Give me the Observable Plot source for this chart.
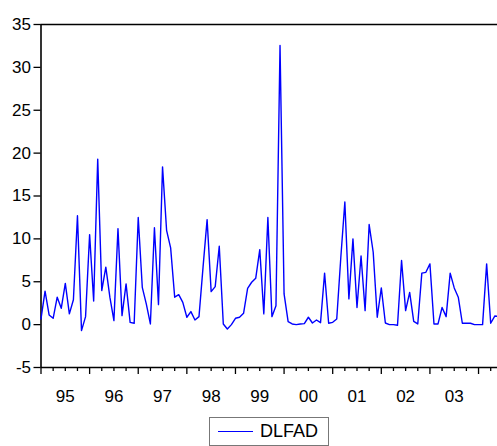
<!DOCTYPE html>
<html>
<head>
<meta charset="utf-8">
<script src="https://cdn.jsdelivr.net/npm/d3@7"></script>
<script src="https://cdn.jsdelivr.net/npm/@observablehq/plot@0.6"></script>
<style>
  html, body { margin: 0; padding: 0; background: #fff; overflow: hidden; }
  #chart { width: 497px; }
  #legend {
    margin-left: 209px; margin-top: 5px;
    width: 120px; height: 29px; box-sizing: border-box;
    border: 1px solid #777; display: flex; align-items: center;
    font-family: "Liberation Sans", Arial, sans-serif; font-size: 18px; color: #000;
  }
  #legend .swatch { width: 35px; height: 0; border-top: 1.5px solid #0000ff; margin-left: 8px; margin-right: 7px; }
</style>
</head>
<body>
<div id="chart"></div>
<div id="legend"><span class="swatch"></span><span>DLFAD</span></div>
<script>
// Series DLFAD, monthly, starting 1995M1
const seriesName = "DLFAD";
const startYear = 1995;
const v1995 = [0.66, 3.9, 1.13, 0.74, 3.2, 1.9, 4.8, 1.25, 2.9, 12.7, -0.7, 0.93];
const v1996 = [10.5, 2.76, 19.3, 3.97, 6.7, 3.2, 0.47, 11.2, 1.05, 4.75, 0.27, 0.16];
const v1997 = [12.5, 4.35, 2.4, 0.08, 11.3, 2.33, 18.4, 11.0, 8.95, 3.2, 3.5, 2.6];
const v1998 = [0.86, 1.52, 0.54, 0.93, 6.7, 12.25, 3.85, 4.43, 9.14, 0.08, -0.51, 0.0];
const v1999 = [0.74, 0.86, 1.32, 4.24, 4.94, 5.4, 8.75, 1.25, 12.5, 0.93, 2.2, 32.55];
const v2000 = [3.58, 0.35, 0.08, 0.0, 0.08, 0.12, 0.86, 0.19, 0.54, 0.23, 6.0, 0.16];
const v2001 = [0.27, 0.66, 7.8, 14.3, 3.0, 10.0, 2.0, 8.0, 1.63, 11.67, 8.44, 0.86];
const v2002 = [4.28, 0.19, 0.0, 0.0, -0.08, 7.47, 1.63, 3.75, 0.37, 0.08, 6.0, 6.1];
const v2003 = [7.08, 0.08, 0.08, 2.0, 0.93, 6.0, 4.28, 3.2, 0.16, 0.16, 0.16, 0.0];
const v2004 = [0.0, 0.0, 7.08, 0.16, 1.0, 0.95];

const yTicks = [-5, 0, 5, 10, 15, 20, 25, 30, 35];
const yearLabels = ["95", "96", "97", "98", "99", "00", "01", "02", "03"];

const values = [].concat(v1995, v1996, v1997, v1998, v1999, v2000, v2001, v2002, v2003, v2004);
const data = values.map((v, i) => ({t: startYear + i / 12, v}));

const yearStarts = d3.range(1995, 2005);
const quarters = d3.range(1995 * 4, 2004 * 4 + 2).map(q => q / 4).filter(q => q % 1 !== 0);
const midYears = yearLabels.map((_, i) => startYear + i + 0.5);

const plot = Plot.plot({
  width: 497,
  height: 412,
  marginLeft: 40.5,
  marginRight: 0,
  marginTop: 24,
  marginBottom: 45,
  x: {domain: [1995, 2004.39], axis: null, label: null},
  y: {domain: [-5, 35], axis: null, label: null},
  style: {fontFamily: "'Liberation Sans', Arial, sans-serif", fontSize: "17px", color: "#000", background: "#fff"},
  marks: [
    Plot.axisY({ticks: yTicks, label: null, tickSize: 7, tickPadding: 3, strokeWidth: 1.3, tickFormat: d => String(d)}),
    Plot.axisX({ticks: yearStarts, label: null, tickSize: 7, strokeWidth: 1.3, tickFormat: () => ""}),
    Plot.axisX({ticks: quarters, label: null, tickSize: 4, strokeWidth: 1.3, tickFormat: () => ""}),
    Plot.axisX({ticks: midYears, label: null, tickSize: 0, tickPadding: 22, tickFormat: d => yearLabels[Math.floor(d) - startYear]}),
    Plot.ruleY([-5], {strokeWidth: 1.6}),
    Plot.ruleY([35], {strokeWidth: 1.6}),
    Plot.ruleX([1995], {strokeWidth: 1.6}),
    Plot.lineY(data, {x: "t", y: "v", stroke: "#0000ff", strokeWidth: 1.4})
  ]
});
document.getElementById("chart").appendChild(plot);
</script>
</body>
</html>
